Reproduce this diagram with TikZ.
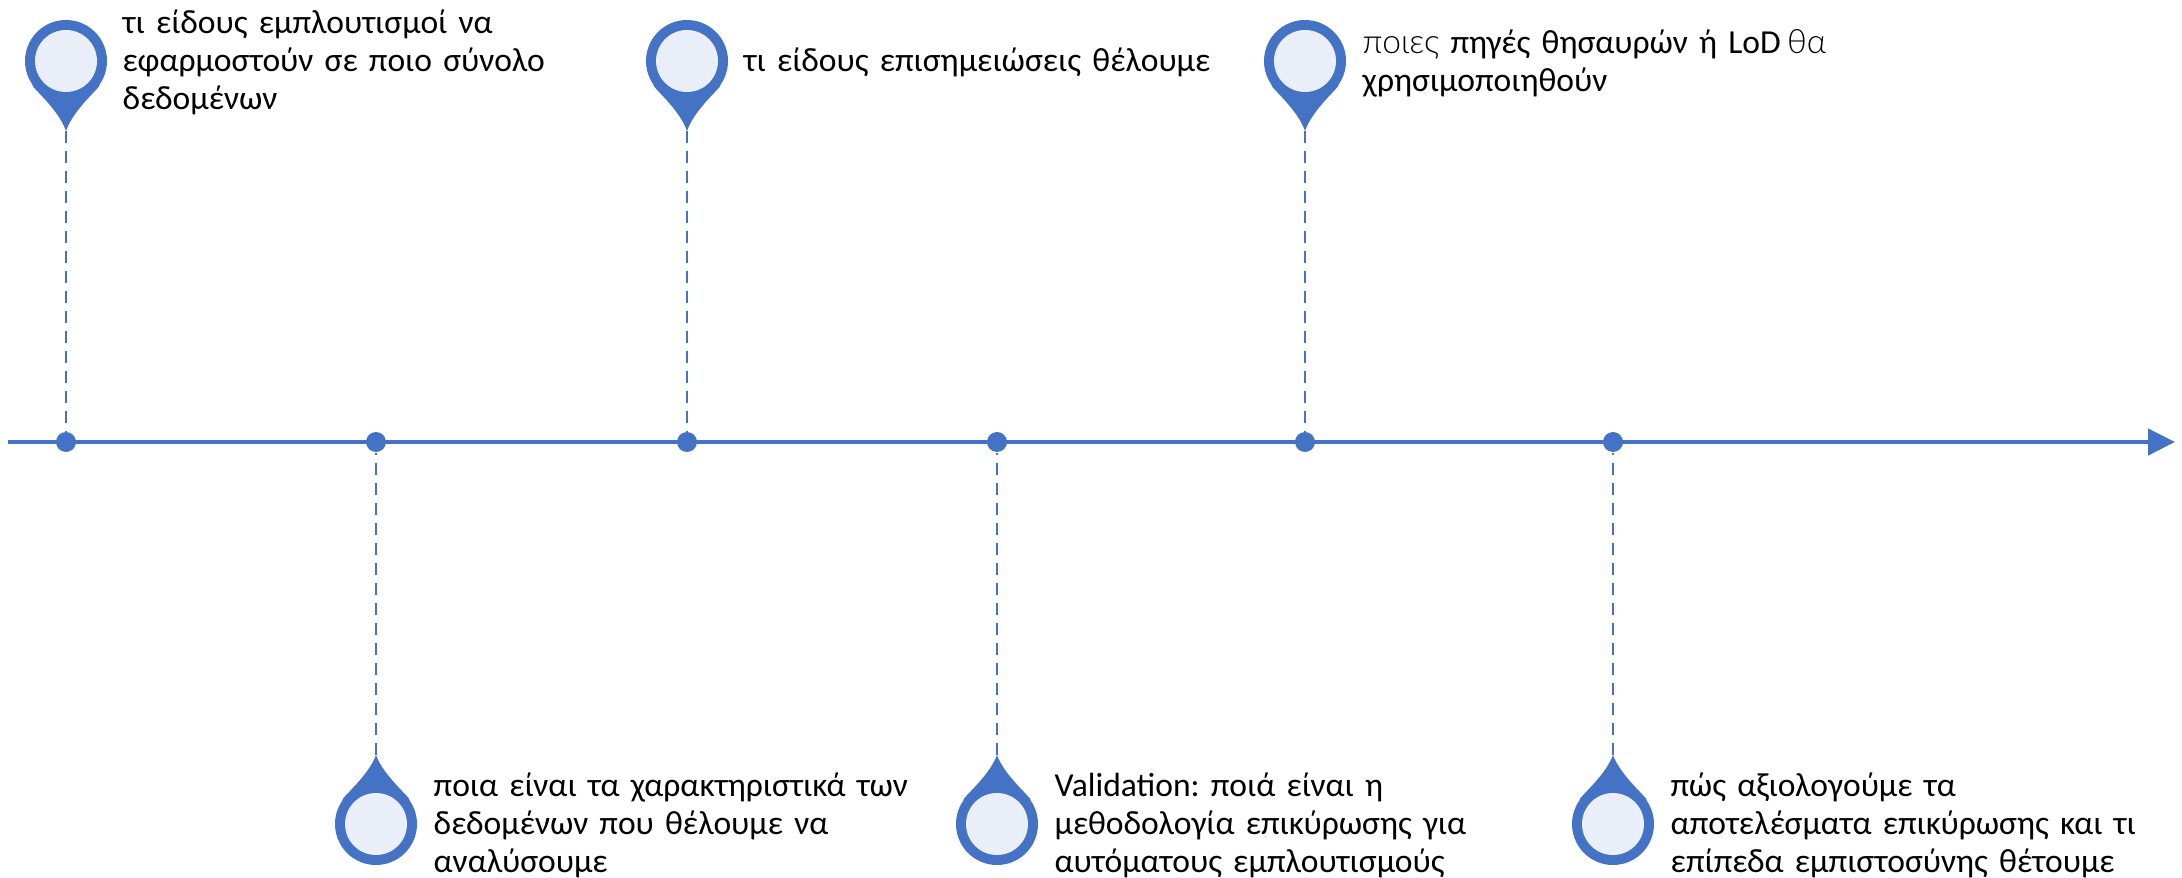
\documentclass[tikz,border=0pt]{standalone}
\usepackage{fontspec}
\setmainfont{Carlito}
\newfontfamily\lightfont{Lato Light}
\usetikzlibrary{arrows.meta}
\usetikzlibrary{positioning}

\definecolor{pinblue}{HTML}{4472C4}
\definecolor{pinfill}{HTML}{E9EEF8}

\begin{document}
\begin{tikzpicture}[
    >=Stealth,
    every node/.style={font=\fontsize{9.55pt}{10.85pt}\selectfont\frenchspacing},
    dot/.style={circle, fill=pinblue, inner sep=0pt, minimum size=0.2cm},
    head/.style={circle, fill=pinfill, inner sep=0pt, minimum size=0.62cm},
    note/.style={align=left, anchor=north west, inner sep=0pt, text width=#1},
    stem/.style={pinblue, dashed, dash pattern=on 0.12cm off 0.08cm, line width=0.75pt},
    pindown/.pic={
        \fill[pinblue] (215:0.41) arc[start angle=215, end angle=-35, radius=0.41]
            .. controls (-35:0.44) and (0.08,-0.47) .. (0,-0.70)
            .. controls (-0.08,-0.47) and (215:0.44) .. (215:0.41) -- cycle;
        \node[head] (-head) at (0,0) {};
        \coordinate (-tip) at (0,-0.70);
    },
    pinup/.pic={
        \fill[pinblue] (145:0.41) arc[start angle=145, end angle=395, radius=0.41]
            .. controls (35:0.44) and (0.08,0.47) .. (0,0.69)
            .. controls (-0.08,0.47) and (145:0.44) .. (145:0.41) -- cycle;
        \node[head] (-head) at (0,0) {};
        \coordinate (-tip) at (0,0.69);
    }
]
\useasboundingbox (0,0) rectangle (21.82,8.77);

% Nodes
\coordinate (start) at (0.08,4.35);
\coordinate (end) at (21.75,4.35);
\node[dot] (dotA) at (0.66,4.35) {};
\node[dot] (dotB) at (3.76,4.35) {};
\node[dot] (dotC) at (6.87,4.35) {};
\node[dot] (dotD) at (9.97,4.35) {};
\node[dot] (dotE) at (13.05,4.35) {};
\node[dot] (dotF) at (16.13,4.35) {};

\pic (pinA) at (0.66,8.16) {pindown};
\pic (pinB) at (3.76,0.53) {pinup};
\pic (pinC) at (6.87,8.16) {pindown};
\pic (pinD) at (9.97,0.53) {pinup};
\pic (pinE) at (13.05,8.16) {pindown};
\pic (pinF) at (16.13,0.53) {pinup};

\node[note=4.9cm] (textA) at (1.22,8.68) {τι είδους εμπλουτισμοί να\\εφαρμοστούν σε ποιο σύνολο\\δεδομένων};
\node[note=5.6cm] (textB) at (4.33,1.05) {ποια είναι τα χαρακτηριστικά των\\δεδομένων που θέλουμε να\\αναλύσουμε};
\node[note=5.6cm] (textC) at (7.43,8.30) {τι είδους επισημειώσεις θέλουμε};
\node[note=5.6cm] (textD) at (10.54,1.05) {Validation: ποιά είναι η\\μεθοδολογία επικύρωσης για\\αυτόματους εμπλουτισμούς};
\node[note=5.6cm] (textE) at (13.62,8.48) {{\lightfont ποιες} πηγές θησαυρών ή LoD\hspace{-0.05cm} {\lightfont θα}\\χρησιμοποιηθούν};
\node[note=5.6cm] (textF) at (16.7,1.05) {πώς αξιολογούμε τα\\αποτελέσματα επικύρωσης και τι\\επίπεδα εμπιστοσύνης θέτουμε};

% Edges
\draw[->, pinblue, line width=1.3pt, arrows={-Triangle[length=0.27cm, width=0.26cm]}] (start) -- (end);
\draw[stem] (pinA-tip) -- (dotA);
\draw[stem] (pinB-tip) -- (dotB);
\draw[stem] (pinC-tip) -- (dotC);
\draw[stem] (pinD-tip) -- (dotD);
\draw[stem] (pinE-tip) -- (dotE);
\draw[stem] (pinF-tip) -- (dotF);

\end{tikzpicture}
\end{document}
